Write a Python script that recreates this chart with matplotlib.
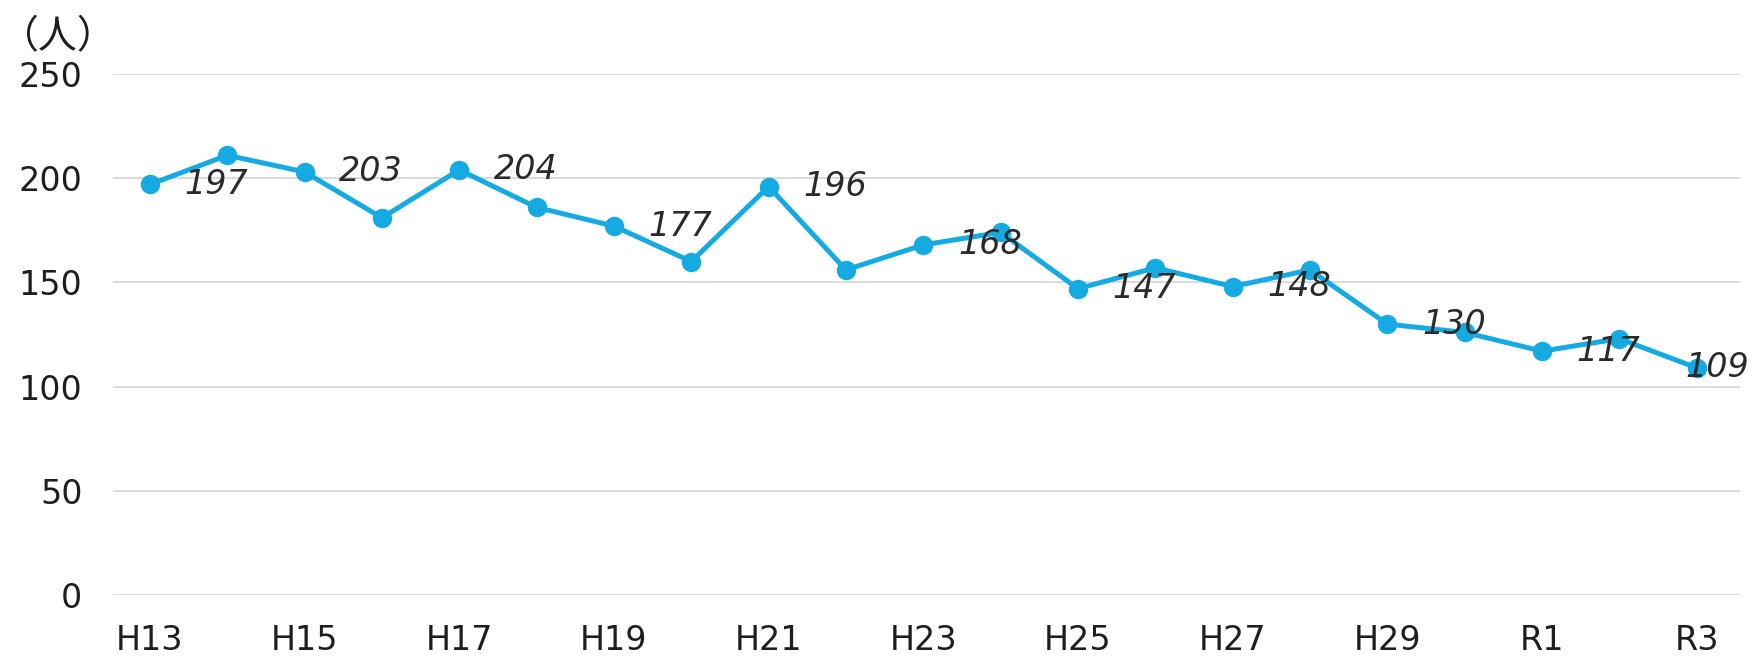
import numpy as np
import matplotlib.pyplot as plt

plt.rcParams['font.family'] = ['DejaVu Sans', 'Noto Sans CJK JP']

years = ['H13', 'H14', 'H15', 'H16', 'H17', 'H18', 'H19', 'H20', 'H21', 'H22',
         'H23', 'H24', 'H25', 'H26', 'H27', 'H28', 'H29', 'H30', 'R1', 'R2', 'R3']
counts = [197, 211, 203, 181, 204, 186, 177, 160, 196, 156,
          168, 174, 147, 157, 148, 156, 130, 126, 117, 123, 109]
yticks = [0, 50, 100, 150, 200, 250]

line_color = '#16aae3'
text_color = '#1e1e1e'

fig = plt.figure(figsize=(17.54, 6.56), dpi=100)
ax = fig.add_axes([0.0644, 0.093, 0.9276, 0.7942])

x = np.arange(len(years))
ax.plot(x, counts, color=line_color, lw=3.6, marker='o', markersize=13,
        clip_on=False, zorder=3)

# value labels on every other year, the last one pulled in to fit
last = len(years) - 1
for i in range(0, len(years), 2):
    off = 0.86 if i < last else 0.26
    ax.text(x[i] + off, counts[i], str(counts[i]), ha='center', va='center',
            fontsize=24, style='italic', color='#2a2a2a',
            zorder=4, clip_on=False)

ax.set_xlim(-0.478, 20.56)
ax.set_ylim(0, 250)
ax.set_yticks(yticks)
ax.set_xticks(x[::2])
ax.set_xticklabels(years[::2])

ax.grid(axis='y', color='#dadada', lw=1.4)
ax.set_axisbelow(True)
for s in ax.spines.values():
    s.set_visible(False)
ax.tick_params(axis='both', length=0, labelsize=24, colors=text_color)
ax.tick_params(axis='y', pad=22)
ax.tick_params(axis='x', pad=21)

fig.text(0.0334, 0.943, '（人）', ha='center', va='center', fontsize=28,
         color=text_color, family='Noto Sans CJK JP')

fig.savefig('out.png', dpi=100)
